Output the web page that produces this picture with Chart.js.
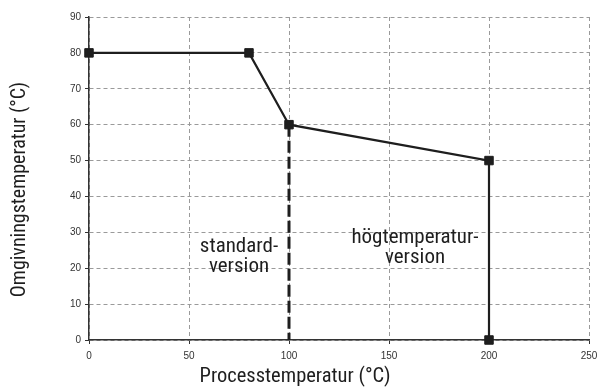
<!DOCTYPE html>
<html>
<head>
<meta charset="utf-8">
<script src="https://cdn.jsdelivr.net/npm/chart.js@4.4.1/dist/chart.umd.min.js"></script>
<style>
  html, body { margin: 0; padding: 0; background: #fff; }
  #wrap { width: 598px; height: 387px; }
</style>
</head>
<body>
<div id="wrap"><canvas id="grafico"></canvas></div>
<script>
// Datos
const processTemp = [0, 80, 100, 200, 200];
const ambientTemp = [80, 80, 60, 50, 0];
const standardLimitX = [100, 100];
const standardLimitY = [60, 0];
const xTicks = [0, 50, 100, 150, 200, 250];
const yTicks = [0, 10, 20, 30, 40, 50, 60, 70, 80, 90];
const regionLabels = [['standard-', 'version'], ['högtemperatur-', 'version']];
const regionAnchors = [{ x: 75, y: 23.2 }, { x: 163, y: 25.6 }];
const yTitle = 'Omgivningstemperatur (°C)';
const xTitle = 'Processtemperatur (°C)';

const narrow = "'Roboto Condensed', 'Roboto', sans-serif";
const tickFont = { family: "'Liberation Sans', Arial, sans-serif", size: 10 };
const ink = '#1e1e1e';

// Textos de las zonas (coordenadas de datos) y título del eje Y
const extraText = {
    id: 'extraText',
    afterDatasetsDraw(chart) {
        const { ctx, scales, chartArea } = chart;
        ctx.save();
        ctx.fillStyle = ink;
        ctx.font = "21px " + narrow;
        ctx.textAlign = 'center';
        ctx.textBaseline = 'middle';
        regionLabels.forEach((lines, i) => {
            const cx = scales.x.getPixelForValue(regionAnchors[i].x);
            const cy = scales.y.getPixelForValue(regionAnchors[i].y);
            const lh = 20;
            lines.forEach((t, j) => {
                ctx.fillText(t, cx, cy + (j - (lines.length - 1) / 2) * lh);
            });
        });
        // título eje Y, algo por debajo del centro del área
        ctx.translate(19.5, (chartArea.top + chartArea.bottom) / 2 + 11);
        ctx.rotate(-Math.PI / 2);
        ctx.font = "20px " + narrow;
        ctx.fillText(yTitle, 0, 0);
        ctx.restore();
    }
};

new Chart(document.getElementById('grafico'), {
    type: 'line',
    data: {
        datasets: [
            {
                data: processTemp.map((x, i) => ({ x, y: ambientTemp[i] })),
                borderColor: ink,
                backgroundColor: ink,
                borderWidth: 2.2,
                pointStyle: 'rect',
                pointRadius: 6,
                pointBorderWidth: 1,
                tension: 0,
                clip: false
            },
            {
                data: standardLimitX.map((x, i) => ({ x, y: standardLimitY[i] })),
                borderColor: ink,
                borderWidth: 3,
                borderDash: [12, 4],
                pointRadius: 0,
                clip: false
            }
        ]
    },
    options: {
        responsive: true,
        maintainAspectRatio: false,
        animation: false,
        layout: { padding: { left: 0, right: 8, top: 17, bottom: 0 } },
        plugins: {
            legend: { display: false },
            tooltip: { enabled: false },
            title: {
                display: true,
                position: 'bottom',
                text: xTitle,
                color: ink,
                font: { family: narrow, size: 20.5, weight: 'normal', lineHeight: 1 },
                padding: { top: 0, bottom: 0 }
            }
        },
        scales: {
            x: {
                type: 'linear',
                min: 0,
                max: 250,
                afterBuildTicks: s => { s.ticks = xTicks.map(v => ({ value: v })); },
                afterFit: s => { s.height = 26.5; s.paddingRight = 9; s.paddingLeft = 0; },
                ticks: { color: '#333', font: tickFont, padding: 6 },
                grid: { color: '#9a9a9a', tickColor: '#333', tickLength: 4 },
                border: { color: '#333', width: 1.5, dash: [4, 3] }
            },
            y: {
                min: 0,
                max: 90,
                afterBuildTicks: s => { s.ticks = yTicks.map(v => ({ value: v })); },
                afterFit: s => { s.width = 89; },
                ticks: { color: '#333', font: tickFont, padding: 4 },
                grid: { color: '#9a9a9a', tickColor: '#333', tickLength: 4 },
                border: { color: '#333', width: 1.5, dash: [4, 3] }
            }
        }
    },
    plugins: [extraText]
});
</script>
</body>
</html>
